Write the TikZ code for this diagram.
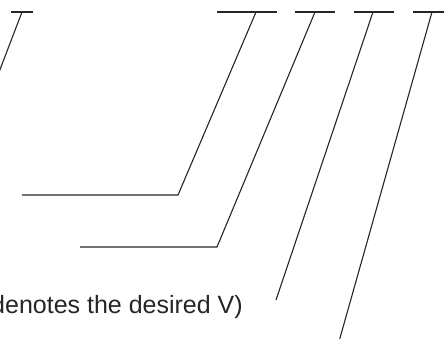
\documentclass[tikz,border=0pt]{standalone}
\usepackage{fontspec}
\setmainfont{Liberation Sans}
\usepackage{tikz}
\tikzset{leader/.style={line width=1.1pt, black!85, line cap=butt},
         tickbar/.style={line width=1.4pt, black!85}}

\begin{document}
\begin{tikzpicture}[x=1pt, y=-1pt]
  \useasboundingbox (0,0) rectangle (444,338);
  \clip (0,0) rectangle (444,338);

  % top ticks of the leaders
  \coordinate (top0) at (22,12);
  \coordinate (top1) at (256,12);
  \coordinate (top2) at (315,12);
  \coordinate (top3) at (373,12);
  \coordinate (top4) at (432,12);
  \draw[tickbar] (11,12) -- (33,12);
  \draw[tickbar] (217,12) -- (277,12);
  \draw[tickbar] (295,12) -- (335,12);
  \draw[tickbar] (354,12) -- (394,12);
  \draw[tickbar] (413,12) -- (450,12);

  % bends and free ends
  \coordinate (bend1) at (178,195);
  \coordinate (end1) at (22,195);
  \coordinate (bend2) at (217,247);
  \coordinate (end2) at (80,247);
  \coordinate (end0) at (-4,80);
  \coordinate (end3) at (276,300);
  \coordinate (end4) at (338,345);

  % the leaders
  \draw[leader] (top0) -- (end0);
  \draw[leader] (top1) -- (bend1) -- (end1);
  \draw[leader] (top2) -- (bend2) -- (end2);
  \draw[leader] (top3) -- (end3);
  \draw[leader] (top4) -- (end4);

  % caption, cut at the left edge
  \node[anchor=base west, inner sep=0pt, text=black!85,
        font=\fontsize{25}{30}\selectfont] (note) at (-9,313)
       {denotes the desired V)};
\end{tikzpicture}
\end{document}
